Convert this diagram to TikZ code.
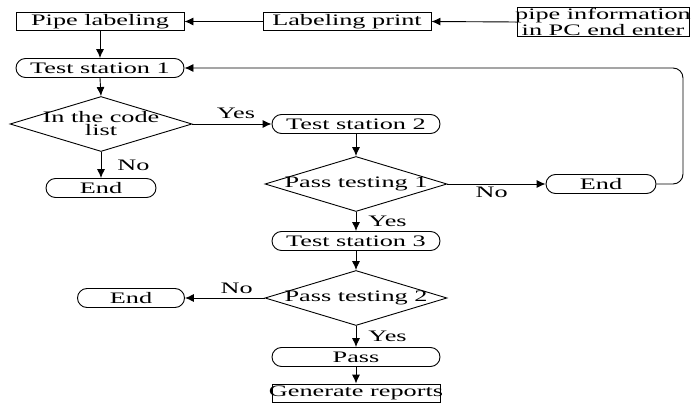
\documentclass[tikz,border=0pt]{standalone}
\usepackage{fontspec}
\setmainfont{Liberation Serif}[FakeStretch=1.64]
\usetikzlibrary{arrows.meta,shapes.misc,shapes.geometric}
\begin{document}
\begin{tikzpicture}[x=1pt,y=-1pt,
  every node/.style={font=\fontsize{16}{11}\selectfont, inner sep=0pt},
  box/.style={draw, line width=0.9pt, minimum width=168pt, minimum height=18pt},
  rbox/.style={draw, line width=0.9pt, rounded rectangle, minimum width=168pt, minimum height=19pt},
  dia/.style={draw, line width=0.9pt, diamond, minimum width=182pt, minimum height=55pt},
  dtxt/.style={align=center, font=\fontsize{16}{13}\selectfont},
  arr/.style={line width=0.9pt, -{Latex[length=9pt,width=8pt]}},
  lbl/.style={font=\fontsize{16}{11}\selectfont}]
\useasboundingbox (0,0) rectangle (691,406);
\node[box] (plab) at (100,21.5) {Pipe labeling};
\node[box] (lprint) at (347,21.5) {Labeling print};
\node[box, minimum width=172pt, minimum height=29pt, align=center] (pinfo) at (603,22)
  {\makebox[166pt]{pipe information}\\\makebox[166pt]{in PC end enter}};
\node[rbox] (ts1) at (100,68) {Test station 1};
\node[dia, label={[dtxt]center:In the code\\list}] (d1) at (101,124) {};
\node[rbox, minimum width=110pt] (endL) at (101,188) {End};
\node[rbox] (ts2) at (356,124) {Test station 2};
\node[dia, label={[dtxt]center:Pass testing 1}] (pt1) at (356,184) {};
\node[rbox, minimum width=110pt] (endR) at (601,184) {End};
\node[rbox] (ts3) at (356,241) {Test station 3};
\node[dia, label={[dtxt]center:Pass testing 2}] (pt2) at (356,298) {};
\node[rbox, minimum width=107pt] (endB) at (131,298) {End};
\node[rbox] (pass) at (356,357) {Pass};
\node[box] (gen) at (356,393) {\makebox[160pt]{Generate reports}};
\coordinate (loopc) at (683,68);
\draw[arr] (pinfo.west) -- (lprint.east);
\draw[arr] (lprint.west) -- (plab.east);
\draw[arr] (plab.south) -- (ts1.north);
\draw[arr] (ts1.south) -- (d1.north);
\draw[arr] (d1.east) -- node[lbl, above, pos=0.55, yshift=5pt] {Yes} (ts2.west);
\draw[arr] (d1.south) -- node[lbl, right, xshift=16pt] {No} (endL.north);
\draw[arr] (ts2.south) -- (pt1.north);
\draw[arr] (pt1.east) -- node[lbl, below, pos=0.45, yshift=-3pt] {No} (endR.west);
\draw[arr, rounded corners=10pt] (endR.east) -| (loopc) -- (ts1.east);
\draw[arr] (pt1.south) -- node[lbl, right, xshift=12pt] {Yes} (ts3.north);
\draw[arr] (ts3.south) -- (pt2.north);
\draw[arr] (pt2.west) -- node[lbl, above, pos=0.35, yshift=4pt] {No} (endB.east);
\draw[arr] (pt2.south) -- node[lbl, right, xshift=12pt] {Yes} (pass.north);
\draw[arr] (pass.south) -- (gen.north);
\end{tikzpicture}
\end{document}
